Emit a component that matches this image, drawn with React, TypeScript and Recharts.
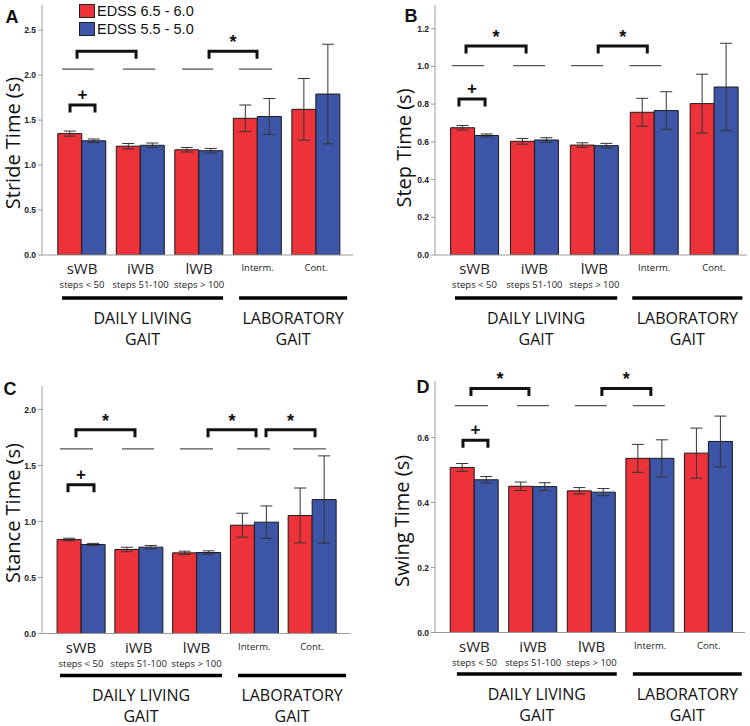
import React from "react";
import { BarChart, Bar, XAxis, YAxis, ErrorBar, ReferenceLine, Legend } from "recharts";

const categories = ["sWB", "iWB", "lWB", "Interm.", "Cont."];
const stepRanges = ["steps < 50", "steps 51-100", "steps > 100", "", ""];
const seriesNames = ["EDSS 6.5 - 6.0", "EDSS 5.5 - 5.0"];
const groupNames = [["DAILY LIVING", "GAIT"], ["LABORATORY", "GAIT"]];

// A - stride time
const strideHigh = [1.35, 1.21, 1.17, 1.52, 1.62];
const strideHighErr = [0.028, 0.03, 0.025, 0.148, 0.343];
const strideLow = [1.27, 1.22, 1.16, 1.54, 1.79];
const strideLowErr = [0.02, 0.025, 0.025, 0.2, 0.554];
const strideTicks = [0, 0.5, 1, 1.5, 2, 2.5];

// B - step time
const stepHigh = [0.675, 0.603, 0.583, 0.757, 0.803];
const stepHighErr = [0.012, 0.015, 0.012, 0.074, 0.156];
const stepLow = [0.634, 0.61, 0.58, 0.766, 0.891];
const stepLowErr = [0.008, 0.012, 0.012, 0.1, 0.232];
const stepTicks = [0, 0.2, 0.4, 0.6, 0.8, 1.0, 1.2];

// C - stance time
const stanceHigh = [0.839, 0.75, 0.72, 0.967, 1.054];
const stanceHighErr = [0.012, 0.02, 0.015, 0.107, 0.245];
const stanceLow = [0.795, 0.771, 0.723, 0.994, 1.196];
const stanceLowErr = [0.01, 0.015, 0.015, 0.145, 0.39];
const stanceTicks = [0, 0.5, 1, 1.5, 2];

// D - swing time
const swingHigh = [0.508, 0.45, 0.436, 0.536, 0.552];
const swingHighErr = [0.012, 0.013, 0.01, 0.043, 0.077];
const swingLow = [0.47, 0.449, 0.432, 0.536, 0.588];
const swingLowErr = [0.01, 0.012, 0.011, 0.057, 0.078];
const swingTicks = [0, 0.2, 0.4, 0.6];

const RED = "#ee3239";
const BLUE = "#3c55a6";
const FONT = "'Open Sans', sans-serif";
const ARIAL = "'Liberation Sans', Arial, sans-serif";

function buildRows(high: number[], highErr: number[], low: number[], lowErr: number[]) {
  return categories.map((name, i) => ({
    idx: i,
    name,
    high: high[i],
    highErr: highErr[i],
    low: low[i],
    lowErr: lowErr[i],
  }));
}

const panels = [
  {
    id: "A", left: 0, top: 0, title: "Stride Time (s)", titleX: 12, titleY: 143, letterX: 12, letterY: 17,
    rows: buildRows(strideHigh, strideHighErr, strideLow, strideLowErr),
    yMax: 2.78, yTicks: strideTicks, xDomain: [-0.684, 4.63],
    margin: { top: 5, right: 22, left: 0, bottom: 0 }, yWidth: 42, xHeight: 108,
    grayY: 2.067,
    grayLines: [[-0.34, 0.2], [0.7, 1.25], [1.71, 2.24], [2.68, 3.25]],
    brackets: [
      { from: -0.085, to: 0.923, y: 2.267, mark: "" },
      { from: 2.17, to: 2.99, y: 2.267, mark: "*" },
      { from: -0.205, to: 0.222, y: 1.667, mark: "+" },
    ],
    groupY: -0.478,
    groupSpans: [[-0.342, 2.41], [2.684, 4.53]],
    legend: true,
  },
  {
    id: "B", left: 375, top: 0, title: "Step Time (s)", titleX: 28, titleY: 148, letterX: 36, letterY: 16,
    rows: buildRows(stepHigh, stepHighErr, stepLow, stepLowErr),
    yMax: 1.326, yTicks: stepTicks, xDomain: [-0.66, 4.55],
    margin: { top: 5, right: 3, left: 0, bottom: 0 }, yWidth: 60, xHeight: 108,
    grayY: 1.004,
    grayLines: [[-0.376, 0.159], [0.644, 1.179], [1.614, 2.149], [2.584, 3.12]],
    brackets: [
      { from: -0.142, to: 0.861, y: 1.109, mark: "*" },
      { from: 2.065, to: 2.885, y: 1.109, mark: "*" },
      { from: -0.26, to: 0.176, y: 0.828, mark: "+" },
    ],
    groupY: -0.228,
    groupSpans: [[-0.326, 2.383], [2.634, 4.473]],
    legend: false,
  },
  {
    id: "C", left: 0, top: 363, title: "Stance Time (s)", titleX: 12, titleY: 150, letterX: 10, letterY: 26,
    rows: buildRows(stanceHigh, stanceHighErr, stanceLow, stanceLowErr),
    yMax: 2.21, yTicks: stanceTicks, xDomain: [-0.675, 4.657],
    margin: { top: 23, right: 25, left: 0, bottom: 0 }, yWidth: 42, xHeight: 92.5,
    grayY: 1.649,
    grayLines: [[-0.364, 0.208], [0.71, 1.264], [1.714, 2.286], [2.701, 3.273], [3.671, 4.242]],
    brackets: [
      { from: -0.087, to: 0.935, y: 1.819, mark: "*" },
      { from: 2.199, to: 3.03, y: 1.819, mark: "*" },
      { from: 3.203, to: 4.052, y: 1.819, mark: "*" },
      { from: -0.225, to: 0.225, y: 1.328, mark: "+" },
    ],
    groupY: -0.375,
    groupSpans: [[-0.364, 2.442], [2.719, 4.589]],
    legend: false,
  },
  {
    id: "D", left: 375, top: 363, title: "Swing Time (s)", titleX: 26, titleY: 158, letterX: 48, letterY: 24,
    rows: buildRows(swingHigh, swingHighErr, swingLow, swingLowErr),
    yMax: 0.774, yTicks: swingTicks, xDomain: [-0.674, 4.62],
    margin: { top: 18, right: 5, left: 0, bottom: 0 }, yWidth: 60, xHeight: 93.5,
    grayY: 0.698,
    grayLines: [[-0.333, 0.23], [0.725, 1.271], [1.715, 2.261], [2.705, 3.251]],
    brackets: [
      { from: -0.06, to: 0.93, y: 0.751, mark: "*" },
      { from: 2.176, to: 3.012, y: 0.751, mark: "*" },
      { from: -0.196, to: 0.23, y: 0.592, mark: "+" },
    ],
    groupY: -0.128,
    groupSpans: [[-0.3, 2.43], [2.705, 4.565]],
    legend: false,
  },
];

function CategoryTick(props: any) {
  const { x, y, payload } = props;
  const i = payload.value;
  const sub = stepRanges[i];
  const big = sub !== "";
  return (
    <g>
      <text x={x} y={y + (big ? 19 : 16)} textAnchor="middle" fontSize={big ? 15 : 9.5} fontFamily={FONT} fill="#222">
        {categories[i]}
      </text>
      {big && (
        <text x={x} y={y + 33} textAnchor="middle" fontSize={9.5} fontFamily={FONT} fill="#222">
          {sub}
        </text>
      )}
    </g>
  );
}

function AxisTitle({ text, px, py }: any) {
  return (
    <text
      x={px}
      y={py}
      transform={`rotate(-90, ${px}, ${py})`}
      textAnchor="middle"
      dominantBaseline="central"
      fontSize={20}
      fontFamily={FONT}
      fill="#111"
    >
      {text}
    </text>
  );
}

function Bracket(props: any) {
  const { x1, x2, y1, mark } = props;
  const leg = 7.5;
  return (
    <g>
      <path d={`M${x1},${y1 + leg} V${y1} H${x2} V${y1 + leg}`} fill="none" stroke="#111" strokeWidth={3} />
      {mark && (
        <text
          x={(x1 + x2) / 2}
          y={mark === "*" ? y1 - 3 : y1 - 5}
          textAnchor="middle"
          fontSize={mark === "*" ? 18 : 17}
          fontWeight={700}
          fontFamily={ARIAL}
          fill="#111"
        >
          {mark}
        </text>
      )}
    </g>
  );
}

function GroupRule(props: any) {
  const { x1, x2, y1, lines } = props;
  const cx = (x1 + x2) / 2;
  return (
    <g>
      <line x1={x1} x2={x2} y1={y1} y2={y1} stroke="#000" strokeWidth={3.5} />
      {lines.map((t: string, i: number) => (
        <text key={i} x={cx} y={y1 + 26 + i * 21} textAnchor="middle" fontSize={16} fontFamily={FONT} fill="#111">
          {t}
        </text>
      ))}
    </g>
  );
}

function LegendBox({ payload }: any) {
  const items = [...(payload ?? [])].sort(
    (a: any, b: any) => seriesNames.indexOf(a.value) - seriesNames.indexOf(b.value)
  );
  return (
    <div style={{ fontFamily: ARIAL, fontSize: 14.5, color: "#111" }}>
      {items.map((it: any, i: number) => (
        <div key={i} style={{ display: "flex", alignItems: "center", height: 18 }}>
          <span
            style={{
              display: "inline-block",
              width: 16,
              height: 14,
              background: it.color,
              border: "1px solid #222",
              boxSizing: "border-box",
              marginRight: 2,
            }}
          />
          <span>{it.value}</span>
        </div>
      ))}
    </div>
  );
}

function Panel({ p }: { p: (typeof panels)[number] }) {
  return (
    <div style={{ position: "absolute", left: p.left, top: p.top, width: 375, height: 363 }}>
      <BarChart width={375} height={363} data={p.rows} margin={p.margin} barGap={0}>
        <XAxis
          type="number"
          dataKey="idx"
          domain={p.xDomain}
          allowDataOverflow
          ticks={[0, 1, 2, 3, 4]}
          interval={0}
          tick={<CategoryTick />}
          tickLine={false}
          tickSize={0}
          tickMargin={0}
          height={p.xHeight}
          stroke="#9a9a9a"
        />
        <YAxis
          type="number"
          domain={[0, p.yMax]}
          ticks={p.yTicks}
          allowDataOverflow
          width={p.yWidth}
          tickSize={4}
          tickMargin={2}
          stroke="#9a9a9a"
          tick={{ fontSize: 8.5, fontWeight: 700, fill: "#222", fontFamily: ARIAL }}
          tickFormatter={(v: number) => v.toFixed(1)}
          label={<AxisTitle text={p.title} px={p.titleX} py={p.titleY} />}
        />
        {p.legend && (
          <Legend
            layout="vertical"
            verticalAlign="middle"
            align="center"
            content={<LegendBox />}
            wrapperStyle={{ left: 79, top: 2, width: "auto", height: "auto" }}
          />
        )}
        <Bar dataKey="high" name={seriesNames[0]} fill={RED} stroke="#1a1a1a" strokeWidth={1} barSize={24} isAnimationActive={false}>
          <ErrorBar dataKey="highErr" direction="y" width={6} stroke="#333" strokeWidth={1} />
        </Bar>
        <Bar dataKey="low" name={seriesNames[1]} fill={BLUE} stroke="#1a1a1a" strokeWidth={1} barSize={24} isAnimationActive={false}>
          <ErrorBar dataKey="lowErr" direction="y" width={6} stroke="#333" strokeWidth={1} />
        </Bar>
        {p.grayLines.map(([a, b], i) => (
          <ReferenceLine
            key={"g" + i}
            segment={[{ x: a, y: p.grayY }, { x: b, y: p.grayY }]}
            stroke="#555"
            strokeWidth={1.3}
            ifOverflow="visible"
          />
        ))}
        {p.brackets.map((b, i) => (
          <ReferenceLine
            key={"b" + i}
            segment={[{ x: b.from, y: b.y }, { x: b.to, y: b.y }]}
            ifOverflow="visible"
            shape={(sp: any) => <Bracket {...sp} mark={b.mark} />}
          />
        ))}
        {p.groupSpans.map(([a, b], i) => (
          <ReferenceLine
            key={"r" + i}
            segment={[{ x: a, y: p.groupY }, { x: b, y: p.groupY }]}
            ifOverflow="visible"
            shape={(sp: any) => <GroupRule {...sp} lines={groupNames[i]} />}
          />
        ))}
      </BarChart>
      <div
        style={{
          position: "absolute",
          left: p.letterX,
          top: p.letterY,
          transform: "translate(-50%, -50%)",
          fontFamily: ARIAL,
          fontWeight: 700,
          fontSize: 18,
          lineHeight: 1,
          color: "#111",
        }}
      >
        {p.id}
      </div>
    </div>
  );
}

export default function App() {
  return (
    <div style={{ position: "absolute", left: 0, top: 0, width: 750, height: 726, background: "#fff", overflow: "hidden" }}>
      {panels.map((p) => (
        <Panel key={p.id} p={p} />
      ))}
    </div>
  );
}
